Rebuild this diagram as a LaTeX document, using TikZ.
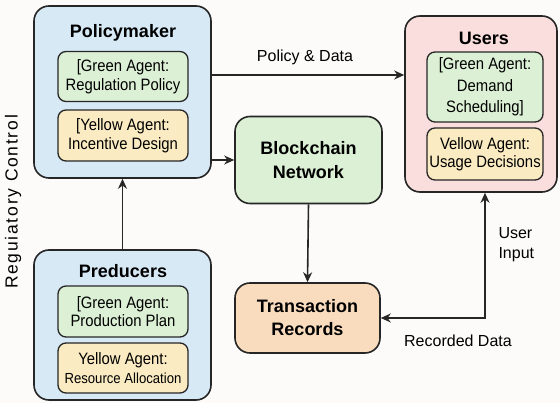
\documentclass[tikz,border=0pt]{standalone}
\usepackage{fontspec}
\setmainfont{Liberation Sans}
\newfontfamily\narrowfont{Liberation Sans}[FakeStretch=0.9]
\newfontfamily\widefont{Liberation Sans}[LetterSpace=10]
\usetikzlibrary{arrows.meta}
\definecolor{bgcol}{HTML}{FCFBFA}
\definecolor{bluefill}{HTML}{D8E9F6}
\definecolor{pinkfill}{HTML}{FADDDD}
\definecolor{greenfill}{HTML}{DCF0D5}
\definecolor{yellowfill}{HTML}{FAEBC2}
\definecolor{peachfill}{HTML}{F9DCBD}
\definecolor{edgecol}{HTML}{262626}

\begin{document}
\begin{tikzpicture}[x=1pt, y=-1pt,
        outerbox/.style={draw=edgecol, line width=1.6pt, rounded corners=15pt, inner sep=0pt},
        innerbox/.style={draw=edgecol, line width=1.3pt, rounded corners=8pt, inner sep=0pt,
            align=center, font=\narrowfont\fontsize{16.5}{18.5}\selectfont},
        title/.style={font=\bfseries\fontsize{18}{20}\selectfont},
        mainbox/.style={outerbox, align=center, font=\bfseries\fontsize{18}{24}\selectfont},
        label/.style={font=\fontsize{16}{20}\selectfont},
        arr/.style={draw=edgecol, line width=1.6pt, -{Stealth[length=10pt,width=9pt]}}]
        \useasboundingbox[fill=bgcol] (0,0) rectangle (560,403);
        % Below nodes are the big boxes.
            \node[outerbox, fill=bluefill, minimum width=177pt, minimum height=172pt] (pol) at (122.5,92) {};
            \node[outerbox, fill=pinkfill, minimum width=152pt, minimum height=176pt] (usr) at (481,104) {};
            \node[outerbox, fill=bluefill, minimum width=177pt, minimum height=150pt] (prd) at (122.5,325) {};
            \node[mainbox, fill=greenfill, minimum width=147pt, minimum height=87pt] (blk) at (308.5,160) {Blockchain\\Network};
            \node[mainbox, fill=peachfill, minimum width=145pt, minimum height=70pt,
                font=\bfseries\fontsize{18}{23}\selectfont] (trx) at (307.5,318) {Transaction\\Records};
        % Titles of the big boxes.
            \node[title] (poltitle) at (123,33) {Policymaker};
            \node[title] (usrtitle) at (484,38) {Users};
            \node[title] (prdtitle) at (123,271) {Preducers};
        % The agents inside.
            \node[innerbox, fill=greenfill, minimum width=130pt, minimum height=50pt] (polgreen) at (123,76.5) {[Green Agent:\\Regulation Policy};
            \node[innerbox, fill=yellowfill, minimum width=130pt, minimum height=51pt] (polyellow) at (123,135.5) {[Yellow Agent:\\Incentive Design};
            \node[innerbox, fill=greenfill, minimum width=116pt, minimum height=70pt,
                font=\narrowfont\fontsize{16.5}{21.5}\selectfont] (usrgreen) at (485,87) {[Green Agent:\\Demand\\Scheduling]};
            \node[innerbox, fill=yellowfill, minimum width=116pt, minimum height=52pt] (usryellow) at (485,154) {Vellow Agent:\\Usage Decisions};
            \node[innerbox, fill=greenfill, minimum width=130pt, minimum height=51pt] (prdgreen) at (123,311.5) {[Green Agent:\\Production Plan};
            \node[innerbox, fill=yellowfill, minimum width=130pt, minimum height=50pt] (prdyellow) at (123,368) {Yellow Agent:\\{\fontsize{14.6}{18.5}\selectfont Resource Allocation}};
        % This draws the arrows.
            \coordinate (pd) at (300,75);
            \draw[arr] (pol.east |- pd) -- (usr.west |- pd);
            \draw[arr] (pol.east |- blk.west) -- (blk.west);
            \draw[arr] (prd.north) -- (pol.south);
            \draw[arr] (blk.south) -- (trx.north);
            \draw[arr, {Stealth[length=10pt,width=9pt]}-{Stealth[length=10pt,width=9pt]}] (trx.east) -| ([xshift=4pt]usr.south);
        % Below nodes are the labels.
            \node[label] (pdlabel) at (305,57) {Policy \& Data};
            \node[label] (rdlabel) at (458,341) {Recorded Data};
            \node[label, anchor=west, align=left] (uilabel) at (495,245) {User\\Input};
            \node[label, font=\widefont\fontsize{17.5}{20}\selectfont, rotate=90] (rclabel) at (13,202) {Reguiatory Control};
    \end{tikzpicture}
\end{document}
